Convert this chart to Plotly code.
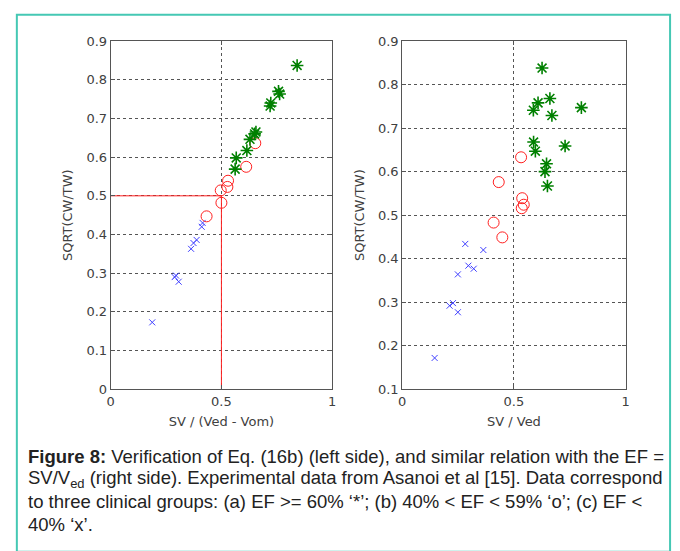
import plotly.graph_objects as go

# ---------------- data ----------------
# Left panel: SV / (Ved - Vom) vs SQRT(CW/TW)
left_star_x = [0.842, 0.763, 0.758, 0.723, 0.720, 0.656, 0.650, 0.629, 0.615, 0.567, 0.562]
left_star_y = [0.837, 0.763, 0.770, 0.740, 0.732, 0.665, 0.660, 0.646, 0.617, 0.598, 0.569]
left_circ_x = [0.653, 0.612, 0.530, 0.527, 0.497, 0.500, 0.433]
left_circ_y = [0.636, 0.575, 0.539, 0.523, 0.514, 0.482, 0.447]
left_x_x = [0.415, 0.411, 0.388, 0.374, 0.363, 0.295, 0.289, 0.307, 0.1875]
left_x_y = [0.430, 0.420, 0.386, 0.378, 0.363, 0.294, 0.290, 0.278, 0.173]
ref_x = [0.0, 0.5, 0.5]
ref_y = [0.5, 0.5, 0.0]

# Right panel: SV / Ved vs SQRT(CW/TW)
right_star_x = [0.626, 0.661, 0.608, 0.587, 0.802, 0.670, 0.588, 0.596, 0.729, 0.646, 0.639, 0.650]
right_star_y = [0.838, 0.768, 0.758, 0.741, 0.747, 0.729, 0.668, 0.647, 0.659, 0.618, 0.600, 0.567]
right_circ_x = [0.532, 0.432, 0.537, 0.544, 0.535, 0.409, 0.448]
right_circ_y = [0.633, 0.576, 0.539, 0.524, 0.516, 0.483, 0.449]
right_x_x = [0.282, 0.363, 0.296, 0.320, 0.249, 0.227, 0.212, 0.249, 0.145]
right_x_y = [0.434, 0.420, 0.384, 0.377, 0.364, 0.298, 0.292, 0.277, 0.172]

x_ticks = [0, 0.5, 1]
x_tick_text = ["0", "0.5", "1"]
left_y_ticks = [0, 0.1, 0.2, 0.3, 0.4, 0.5, 0.6, 0.7, 0.8, 0.9]
left_y_text = ["0", "0.1", "0.2", "0.3", "0.4", "0.5", "0.6", "0.7", "0.8", "0.9"]
right_y_ticks = [0.1, 0.2, 0.3, 0.4, 0.5, 0.6, 0.7, 0.8, 0.9]
right_y_text = ["0.1", "0.2", "0.3", "0.4", "0.5", "0.6", "0.7", "0.8", "0.9"]

caption_lines = [
    "<b>Figure 8:</b> Verification of Eq. (16b) (left side), and similar relation with the EF =",
    "SV/V<sub>ed</sub> (right side). Experimental data from Asanoi et al [15]. Data correspond",
    "to three clinical groups: (a) EF >= 60% \u2018*\u2019; (b) 40% < EF < 59% \u2018o\u2019; (c) EF <",
    "40% \u2018x\u2019.",
]

# ---------------- styles ----------------
W, H = 680, 551
GREEN = "#008000"
RED = "#ff2020"
BLUE = "#4040ff"
TXT = "#404040"
FONT = "Liberation Sans, Arial, sans-serif"
AXFONT = "DejaVu Sans, sans-serif"

fig = go.Figure()

def add_group(xs, ys, xa, ya, symbol, color, size, lw):
    fig.add_trace(go.Scatter(
        x=xs, y=ys, xaxis=xa, yaxis=ya, mode="markers",
        marker=dict(symbol=symbol, size=size, color=color,
                    line=dict(color=color, width=lw)),
        showlegend=False, hoverinfo="skip"))

# reference lines (left)
fig.add_trace(go.Scatter(x=ref_x, y=ref_y, xaxis="x", yaxis="y", mode="lines",
                         line=dict(color=RED, width=1), showlegend=False, hoverinfo="skip"))

add_group(left_x_x, left_x_y, "x", "y", "x-thin-open", BLUE, 6, 1)
add_group(left_circ_x, left_circ_y, "x", "y", "circle-open", RED, 11, 1)
add_group(left_star_x, left_star_y, "x", "y", "asterisk-open", GREEN, 10.5, 1.6)

add_group(right_x_x, right_x_y, "x2", "y2", "x-thin-open", BLUE, 6, 1)
add_group(right_circ_x, right_circ_y, "x2", "y2", "circle-open", RED, 11, 1)
add_group(right_star_x, right_star_y, "x2", "y2", "asterisk-open", GREEN, 10.5, 1.6)

def px_x(p):
    return p / W

def px_y(p):
    return 1 - p / H

axis_common = dict(
    showline=True, linecolor="#555555", linewidth=1, mirror="allticks",
    ticks="inside", ticklen=4, tickcolor="#555555",
    showgrid=True, gridcolor="#555555", gridwidth=1, griddash="dot",
    zeroline=False, tickfont=dict(family=AXFONT, size=13, color=TXT),
    title_font=dict(family=AXFONT, size=13, color=TXT),
)

fig.update_layout(
    width=W, height=H, margin=dict(l=0, r=0, t=0, b=0),
    paper_bgcolor="white", plot_bgcolor="white",
    xaxis=dict(domain=[px_x(108), px_x(332)], range=[0, 1], anchor="y",
               tickvals=x_ticks, ticktext=x_tick_text,
               title=dict(text="SV / (Ved - Vom)", standoff=8), **axis_common),
    yaxis=dict(domain=[px_y(393), px_y(35)], range=[0, 0.9], anchor="x",
               tickvals=left_y_ticks, ticktext=left_y_text,
               title=dict(text="SQRT(CW/TW)", standoff=10), **axis_common),
    xaxis2=dict(domain=[px_x(403), px_x(629)], range=[0, 1], anchor="y2",
                tickvals=x_ticks, ticktext=x_tick_text,
                title=dict(text="SV / Ved", standoff=8), **axis_common),
    yaxis2=dict(domain=[px_y(393), px_y(35)], range=[0.1, 0.9], anchor="x2",
                tickvals=right_y_ticks, ticktext=right_y_text,
                title=dict(text="SQRT(CW/TW)", standoff=10), **axis_common),
)

# teal frame
fig.add_shape(type="rect", xref="paper", yref="paper",
              x0=px_x(13), x1=px_x(674), y0=px_y(560), y1=px_y(8),
              line=dict(color="#45c8b4", width=2), fillcolor="rgba(0,0,0,0)", layer="below")

# caption
line_y = [462.5, 485.5, 508.5, 531.5]
for txt, yy in zip(caption_lines, line_y):
    fig.add_annotation(text=txt, xref="paper", yref="paper", x=px_x(22), y=px_y(yy),
                       xanchor="left", yanchor="middle", showarrow=False,
                       font=dict(family=FONT, size=18.5, color="#222222"))

fig.write_html("out.html")
